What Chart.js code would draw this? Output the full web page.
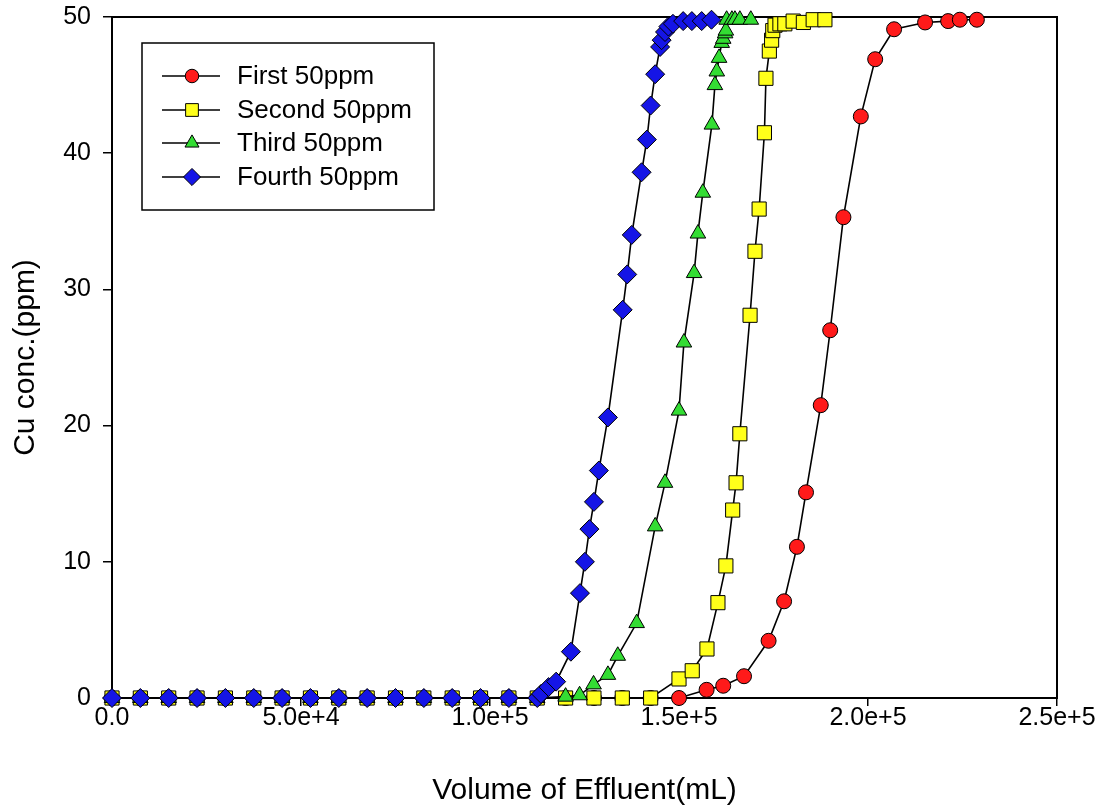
<!DOCTYPE html>
<html>
<head>
<meta charset="utf-8">
<script src="https://cdn.jsdelivr.net/npm/chart.js@4.4.1/dist/chart.umd.min.js"></script>
<style>
  html, body { margin: 0; padding: 0; background: #fff; }
  #wrap { width: 1104px; height: 812px; }
</style>
</head>
<body>
<div id="wrap"><canvas id="ch" width="1104" height="812"></canvas></div>
<script>
// ── Data (mL, ppm) ──
const xTicks = [0, 50000, 100000, 150000, 200000, 250000];
const yTicks = [0, 10, 20, 30, 40, 50];

const firstX  = [0, 7500, 15000, 22500, 30000, 37500, 45000, 52500, 60000, 67500, 75000, 82500, 90000, 97500, 105000, 112500,
                 120000, 127500, 135000, 142500, 150000, 157300, 161700, 167200, 173700, 177800, 181200, 183600, 187500, 190000,
                 193500, 198100, 201900, 206900, 215100, 221200, 224300, 228800];
const firstY  = [0, 0, 0, 0, 0, 0, 0, 0, 0, 0, 0, 0, 0, 0, 0, 0,
                 0, 0, 0, 0, 0, 0.6, 0.9, 1.6, 4.2, 7.1, 11.1, 15.1, 21.5, 27.0,
                 35.3, 42.7, 46.9, 49.1, 49.6, 49.7, 49.8, 49.8];

const secondX = [0, 7500, 15000, 22500, 30000, 37500, 45000, 52500, 60000, 67500, 75000, 82500, 90000, 97500, 105000, 112500,
                 120000, 127500, 135000, 142500, 150000, 153500, 157400, 160300, 162400, 164200, 165100, 166100, 168800, 170100,
                 171200, 172600, 173000, 173900, 174500, 174800, 175400, 176700, 178000, 180200, 182900, 185500, 188600];
const secondY = [0, 0, 0, 0, 0, 0, 0, 0, 0, 0, 0, 0, 0, 0, 0, 0,
                 0, 0, 0, 0, 1.4, 2.0, 3.6, 7.0, 9.7, 13.8, 15.8, 19.4, 28.1, 32.8,
                 35.9, 41.5, 45.5, 47.5, 48.3, 49.0, 49.4, 49.5, 49.5, 49.7, 49.6, 49.8, 49.8];

const thirdX  = [0, 7500, 15000, 22500, 30000, 37500, 45000, 52500, 60000, 67500, 75000, 82500, 90000, 97500, 105000, 112500,
                 120000, 123700, 127400, 131200, 133800, 138800, 143700, 146300, 150000, 151300, 154000, 155000, 156300,
                 158700, 159500, 160000, 160600, 161300, 161700, 162200, 162400, 162600, 164000, 164800, 166100, 169000];
const thirdY  = [0, 0, 0, 0, 0, 0, 0, 0, 0, 0, 0, 0, 0, 0, 0, 0,
                 0.1, 0.2, 1.0, 1.7, 3.1, 5.5, 12.6, 15.8, 21.1, 26.1, 31.2, 34.1, 37.1,
                 42.1, 45.0, 46.0, 47.0, 48.1, 48.4, 48.8, 49.0, 49.8, 49.8, 49.8, 49.8, 49.8];

const fourthX = [0, 7500, 15000, 22500, 30000, 37500, 45000, 52500, 60000, 67500, 75000, 82500, 90000, 97500, 105000, 112500,
                 113500, 115500, 117500, 121400, 123800, 125100, 126300, 127500, 128800, 131200, 135100, 136300, 137500,
                 140100, 141500, 142500, 143700, 145000, 145400, 146300, 147200, 148400, 151100, 153400, 156000, 158600];
const fourthY = [0, 0, 0, 0, 0, 0, 0, 0, 0, 0, 0, 0, 0, 0, 0, 0,
                 0.3, 0.8, 1.2, 3.4, 7.7, 10.0, 12.4, 14.4, 16.7, 20.6, 28.5, 31.1, 34.0,
                 38.6, 41.0, 43.5, 45.8, 47.8, 48.3, 48.9, 49.3, 49.5, 49.7, 49.7, 49.7, 49.8];

const FONT = "'Liberation Sans', Arial, sans-serif";

const pts = (xs, ys) => xs.map((x, i) => ({ x: x, y: ys[i] }));

// later series drawn on top (order: lower = on top)
const series = [
  { label: 'First 50ppm',  x: firstX,  y: firstY,  color: '#ff1a1a', style: 'circle',   r: 7.5, order: 3 },
  { label: 'Second 50ppm', x: secondX, y: secondY, color: '#ffff1a', style: 'rect',     r: 10,  order: 2 },
  { label: 'Third 50ppm',  x: thirdX,  y: thirdY,  color: '#33dd33', style: 'triangle', r: 9,   order: 1 },
  { label: 'Fourth 50ppm', x: fourthX, y: fourthY, color: '#1515e6', style: 'rectRot',  r: 9.5, order: 0 },
];

// ── frame (top + right border) ──
const framePlugin = {
  id: 'frame',
  beforeDatasetsDraw(chart) {
    const a = chart.chartArea, c = chart.ctx;
    c.save();
    c.strokeStyle = '#000'; c.lineWidth = 2;
    c.strokeRect(a.left, a.top, a.right - a.left, a.bottom - a.top);
    c.restore();
  }
};

// ── legend box drawn inside the plot ──
const legendBox = {
  id: 'legendBox',
  afterDatasetsDraw(chart) {
    const c = chart.ctx;
    c.save();
    c.fillStyle = '#fff';
    c.fillRect(142, 43, 292, 167);
    c.strokeStyle = '#000'; c.lineWidth = 1.5;
    c.strokeRect(142, 43, 292, 167);
    const rows = [76, 110, 143, 177];
    series.forEach((s, i) => {
      const y = rows[i];
      c.strokeStyle = '#000'; c.lineWidth = 1.5;
      c.beginPath(); c.moveTo(162, y); c.lineTo(220, y); c.stroke();
      c.fillStyle = s.color; c.strokeStyle = '#000'; c.lineWidth = 1;
      Chart.helpers.drawPoint(c, { pointStyle: s.style, radius: s.r * 0.9, borderWidth: 1, rotation: 0 }, 192, y);
      c.fillStyle = '#000';
      c.font = '26px ' + FONT;
      c.textBaseline = 'middle'; c.textAlign = 'left';
      c.fillText(s.label, 237, y + 1);
    });
    c.restore();
  }
};

new Chart(document.getElementById('ch'), {
  type: 'line',
  data: {
    datasets: series.map(s => ({
      label: s.label,
      data: pts(s.x, s.y),
      order: s.order,
      borderColor: '#000',
      borderWidth: 1.6,
      backgroundColor: s.color,
      pointBackgroundColor: s.color,
      pointBorderColor: '#000',
      pointBorderWidth: 1,
      pointStyle: s.style,
      pointRadius: s.r,
      tension: 0,
      fill: false,
      clip: false
    }))
  },
  plugins: [framePlugin, legendBox],
  options: {
    responsive: false,
    animation: false,
    devicePixelRatio: 1,
    layout: { padding: { left: 0, top: 17, right: 47, bottom: 0 } },
    plugins: { legend: { display: false }, tooltip: { enabled: false } },
    scales: {
      x: {
        type: 'linear', min: 0, max: 250000,
        afterFit: s => { s.height = 114; s.paddingRight = 0; s.paddingLeft = 0; },
        afterBuildTicks: s => { s.ticks = xTicks.map(v => ({ value: v })); },
        border: { display: true, color: '#000', width: 2 },
        grid: { display: true, drawOnChartArea: false, drawTicks: true, tickLength: 8, color: '#000', lineWidth: 1.5 },
        ticks: {
          color: '#000', padding: 0, maxRotation: 0,
          font: { family: FONT, size: 25, lineHeight: 1 },
          callback: v => v === 0 ? '0.0' : Number(v).toExponential(1)
        },
        title: { display: true, text: 'Volume of Effluent(mL)', color: '#000',
                 font: { family: FONT, size: 30 }, padding: { top: 0, bottom: 3 } }
      },
      y: {
        type: 'linear', min: 0, max: 50,
        afterFit: s => { s.width = 112; s.paddingTop = 0; s.paddingBottom = 0; },
        afterBuildTicks: s => { s.ticks = yTicks.map(v => ({ value: v })); },
        border: { display: true, color: '#000', width: 2 },
        grid: { display: true, drawOnChartArea: false, drawTicks: true, tickLength: 9, color: '#000', lineWidth: 1.5 },
        ticks: { color: '#000', padding: 12, font: { family: FONT, size: 25 } },
        title: { display: true, text: 'Cu conc.(ppm)', color: '#000',
                 font: { family: FONT, size: 30 }, padding: { top: 8, bottom: 0 } }
      }
    }
  }
});
</script>
</body>
</html>
